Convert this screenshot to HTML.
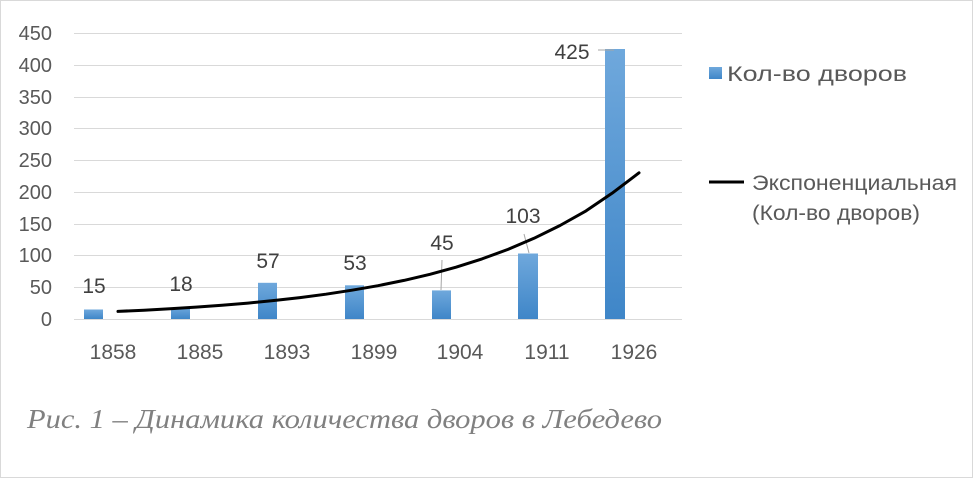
<!DOCTYPE html>
<html><head><meta charset="utf-8"><style>
html,body{margin:0;padding:0;background:#fff;}
svg{display:block;}
text{font-family:"Liberation Sans",sans-serif;}
</style></head><body>
<svg width="973" height="478" viewBox="0 0 973 478" xmlns="http://www.w3.org/2000/svg">
<defs>
<linearGradient id="g" x1="0" y1="0" x2="0" y2="1">
<stop offset="0" stop-color="#6fa8dc"/><stop offset="1" stop-color="#3f86c8"/>
</linearGradient>
</defs>
<rect x="0.5" y="0.5" width="972" height="477" fill="#fff" stroke="#d9d9d9"/>
<g stroke="#d9d9d9" stroke-width="1">
<line x1="74" y1="33.5" x2="682" y2="33.5"/>
<line x1="74" y1="65.5" x2="682" y2="65.5"/>
<line x1="74" y1="97.5" x2="682" y2="97.5"/>
<line x1="74" y1="128.5" x2="682" y2="128.5"/>
<line x1="74" y1="160.5" x2="682" y2="160.5"/>
<line x1="74" y1="192.5" x2="682" y2="192.5"/>
<line x1="74" y1="224.5" x2="682" y2="224.5"/>
<line x1="74" y1="255.5" x2="682" y2="255.5"/>
<line x1="74" y1="287.5" x2="682" y2="287.5"/>
<line x1="74" y1="319.5" x2="682" y2="319.5"/>
</g>
<g fill="#595959" font-size="20" text-anchor="end">
<text x="52" y="40">450</text><text x="52" y="72">400</text><text x="52" y="104">350</text>
<text x="52" y="135">300</text><text x="52" y="167">250</text><text x="52" y="199">200</text>
<text x="52" y="231">150</text><text x="52" y="262">100</text><text x="52" y="294">50</text>
<text x="52" y="326">0</text>
</g>
<g fill="url(#g)">
<rect x="84" y="309.5" width="19" height="9.5"/>
<rect x="171" y="307.5" width="19" height="11.5"/>
<rect x="258" y="282.8" width="19" height="36.2"/>
<rect x="345" y="285.3" width="19" height="33.7"/>
<rect x="432" y="290.4" width="19" height="28.6"/>
<rect x="518" y="253.5" width="20" height="65.5"/>
<rect x="605" y="49" width="20" height="270"/>
</g>
<g stroke="#a6a6a6" stroke-width="1" fill="none">
<line x1="442" y1="260" x2="441" y2="290"/>
<line x1="524" y1="234" x2="529" y2="253"/>
<line x1="598" y1="50" x2="614" y2="50"/>
</g>
<polyline fill="none" stroke="#000" stroke-width="3" stroke-linecap="round" stroke-linejoin="round" points="118,311.4 144,310.2 170,308.8 196,307.1 222,305.3 248,303.1 274,300.5 300,297.6 326,294.2 352,290.2 378,285.7 404,280.4 430,274.3 456,267.2 482,258.9 508,249.4 534,238.3 560,225.5 586,210.9 612,193.3 639,172.8"/>
<g fill="#404040" font-size="21" text-anchor="middle">
<text x="94" y="293">15</text>
<text x="181" y="291">18</text>
<text x="268" y="268">57</text>
<text x="355" y="270">53</text>
<text x="442" y="250">45</text>
<text x="523" y="223">103</text>
<text x="572" y="59">425</text>
</g>
<g fill="#595959" font-size="21" text-anchor="middle">
<text x="113" y="359">1858</text><text x="200" y="359">1885</text><text x="287" y="359">1893</text>
<text x="374" y="359">1899</text><text x="460" y="359">1904</text><text x="547" y="359">1911</text>
<text x="634" y="359">1926</text>
</g>
<rect x="709" y="67" width="13" height="12" fill="url(#g)"/>
<text x="727" y="81" font-size="21" fill="#595959" textLength="180" lengthAdjust="spacingAndGlyphs">Кол-во дворов</text>
<line x1="709" y1="182" x2="744" y2="182" stroke="#000" stroke-width="3"/>
<text x="752" y="190" font-size="21" fill="#595959" textLength="205" lengthAdjust="spacingAndGlyphs">Экспоненциальная</text>
<text x="752" y="220" font-size="21" fill="#595959" textLength="168" lengthAdjust="spacingAndGlyphs">(Кол-во дворов)</text>
<text x="27" y="428" font-size="27" font-style="italic" fill="#808080" style="font-family:'Liberation Serif',serif" textLength="635" lengthAdjust="spacingAndGlyphs">Рис. 1 – Динамика количества дворов в Лебедево</text>
</svg>
</body></html>
